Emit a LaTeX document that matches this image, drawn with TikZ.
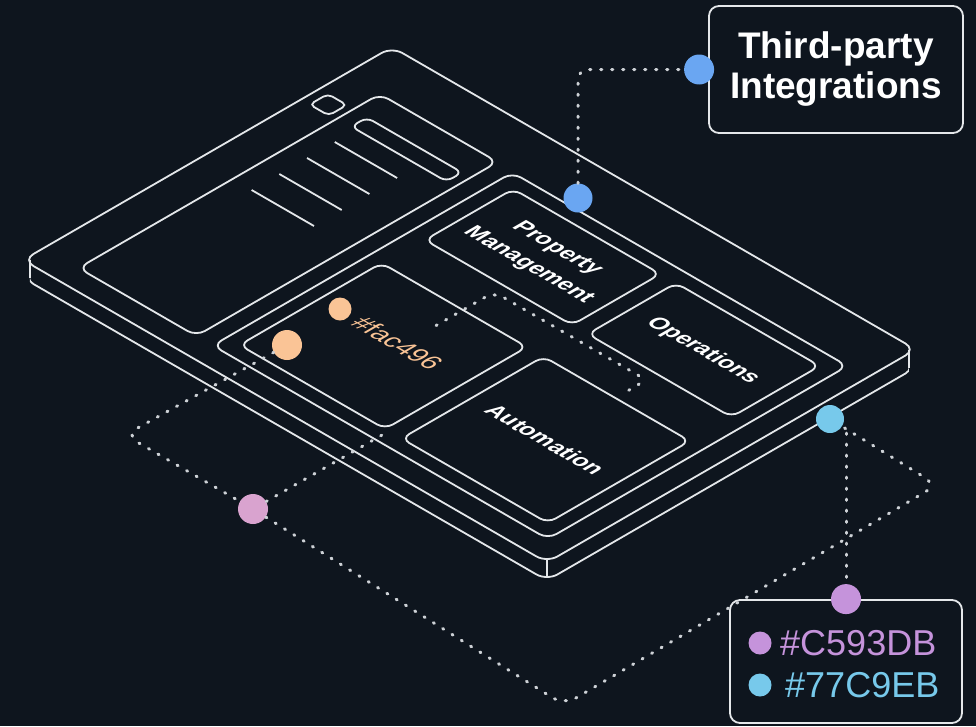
\documentclass[tikz,border=0pt]{standalone}
\usepackage{fontspec}
\setmainfont{Liberation Sans}

\definecolor{bgnavy}{HTML}{0E151E}
\definecolor{edge}{HTML}{E4E7EA}
\definecolor{dotgray}{HTML}{CDD1D6}
\definecolor{pinblue}{HTML}{6AA6F2}
\definecolor{pincyan}{HTML}{77C9EB}
\definecolor{pinpink}{HTML}{C593DB}
\definecolor{pinrose}{HTML}{D9A3CF}
\definecolor{pinpeach}{HTML}{FAC496}

\tikzset{
  outline/.style={draw=edge, line width=1.8pt},
  link/.style={draw=dotgray, line width=3pt, line cap=round, dash pattern=on 1.2pt off 9.8pt},
  pin/.style={circle, fill=#1, inner sep=0pt, minimum size=29pt},
  planelabel/.style={transform shape, text=white, inner sep=0pt, align=center,
    font=\bfseries\fontsize{23}{33}\selectfont},
  infobox/.style={outline, fill=bgnavy, rounded corners=10pt, inner sep=0pt},
}

\begin{document}
\begin{tikzpicture}[x=1pt, y=-1pt]
  \fill[bgnavy] (0,0) rectangle (976,726);
  \useasboundingbox (0,0) rectangle (976,726);

  % the slab, drawn in its isometric plane
  \begin{scope}[shift={(23,260)}, x=1pt, y=1pt, cm={0.866,-0.5,0.866,0.5,(0,0)}]
    \draw[outline, rounded corners=12pt] (0,0) rectangle (605,426);
    \begin{scope}
      \clip (22,-14) -- (619,404) -- (919,104) -- (322,-314) -- cycle;
      \draw[outline, rounded corners=12pt] (18,-18) rectangle (623,408);
    \end{scope}
    \draw[outline] (4,4) -- (22,-14);
    \draw[outline] (601.8,3.2) -- (619.8,-14.8);
    \draw[outline] (601,422) -- (619,404);

    \draw[outline, rounded corners=10pt] (40,24) rectangle (176,372);
    \draw[outline, rounded corners=5pt] (10,321) rectangle (32,342);
    \draw[outline, rounded corners=7pt] (56,323) rectangle (166,341);
    \foreach \b in {202,234,266,298}
      \draw[outline] (62,\b) -- (134,\b);

    \draw[outline, rounded corners=10pt] (195,24) rectangle (582,370);
    \draw[outline, rounded corners=9pt] (210,40) rectangle (378,204);
    \draw[outline, rounded corners=9pt] (397,40) rectangle (566,204);
    \draw[outline, rounded corners=9pt] (212,252) rectangle (382,354);
    \draw[outline, rounded corners=9pt] (400,252) rectangle (566,354);

    \node[planelabel] (pmlabel) at (297,303) {Property\\Management};
    \node[planelabel] (opslabel) at (483,302) {Operations};
    \node[planelabel] (autolabel) at (481,122) {Automation};
    \node[planelabel, anchor=west, text=pinpeach, font=\fontsize{26}{30}\selectfont]
      (faclabel) at (253,133) {\#fac496};

    \coordinate (tapA) at (304,173);
    \coordinate (tapB) at (480,212);
    \draw[link, rounded corners=10pt] (tapA) -- (304,240) -- (480,240) -- (tapB);
  \end{scope}

  % dots
  \node[pin=pinblue] (pmdot) at (578,198) {};
  \node[pin=pincyan, minimum size=28pt] (cyandot) at (830,419) {};
  \node[pin=pinrose, minimum size=30pt] (rosedot) at (253,509) {};
  \node[pin=pinpeach, minimum size=30pt] (peachbig) at (287,345) {};
  \node[pin=pinpeach, minimum size=23pt] (peachsmall) at (340,309) {};

  % boxes
  \node[infobox, minimum width=254pt, minimum height=127pt, text=white, align=center,
    font=\bfseries\fontsize{37}{40}\selectfont] (tpbox) at (836,69.5) {Third-party\\Integrations};
  \node[pin=pinblue, minimum size=30pt] (tpdot) at ([xshift=-9pt]tpbox.west) {};
  \node[infobox, minimum width=232pt, minimum height=123pt] (legend) at (846,661.5) {};
  \node[pin=pinpink, minimum size=30pt] (legenddot) at (legend.north) {};
  \node[pin=pinpink, minimum size=23pt] (keypink) at (760,643) {};
  \node[pin=pincyan, minimum size=23pt] (keycyan) at (760,685) {};
  \node[anchor=west, inner sep=0pt, text=pinpink, font=\fontsize{36}{40}\selectfont]
    (keypinktext) at (780,643) {\#C593DB};
  \node[anchor=west, inner sep=0pt, text=pincyan, font=\fontsize{36}{40}\selectfont]
    (keycyantext) at (785,685) {\#77C9EB};

  % dotted connectors
  \coordinate (groundW) at (125,435);
  \coordinate (groundS) at (564,705);
  \coordinate (groundE) at (937,485);
  \coordinate (facfoot) at (382,435);
  \draw[link, rounded corners=10pt] (pmdot) |- (tpdot);
  \draw[link, rounded corners=14pt] (peachbig) -- (groundW) -- (rosedot);
  \draw[link, rounded corners=14pt] (rosedot) -- (groundS) -- (groundE) -- (cyandot);
  \draw[link] (rosedot) -- (facfoot);
  \draw[link] (cyandot.south -| legenddot) -- (legenddot);
\end{tikzpicture}
\end{document}
